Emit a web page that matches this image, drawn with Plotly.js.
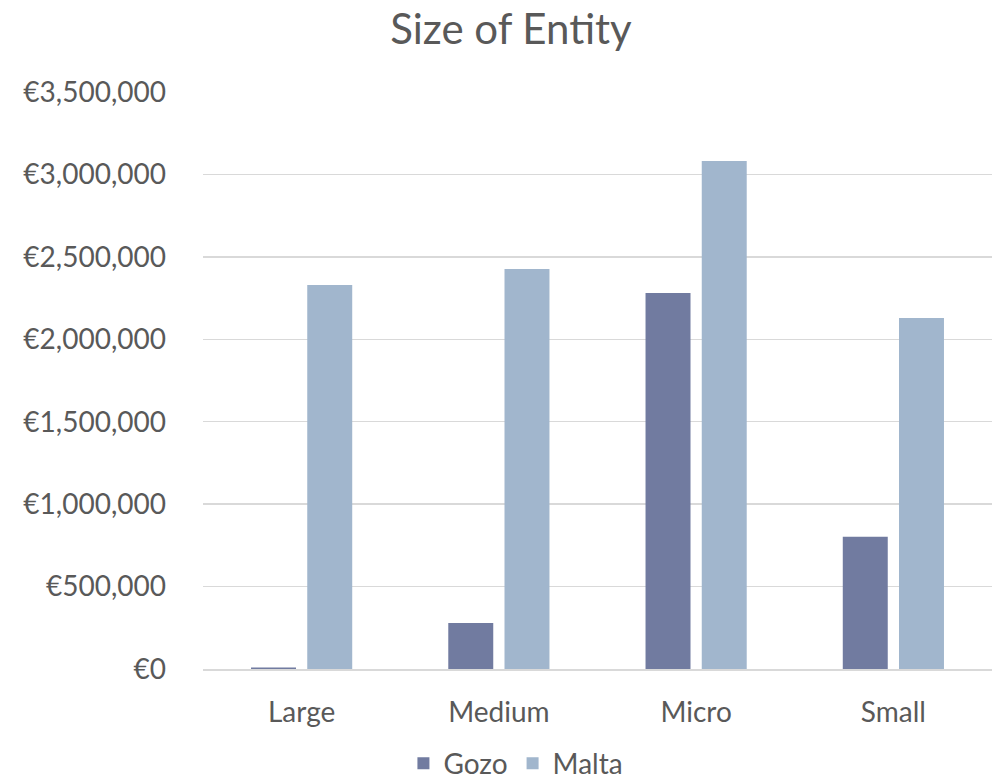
<!DOCTYPE html>
<html>
<head>
<meta charset="utf-8">
<script src="https://cdn.plot.ly/plotly-3.0.1.min.js"></script>
<style>html,body{margin:0;padding:0;background:#fff;}#chart{width:996px;height:784px;}</style>
</head>
<body>
<div id="chart"></div>
<script>
const categories = ["Large", "Medium", "Micro", "Small"];
const gozo = [9000, 279000, 2281000, 802000];
const malta = [2329000, 2426000, 3081000, 2129000];
const yTicks = [0, 500000, 1000000, 1500000, 2000000, 2500000, 3000000, 3500000];
const yTickText = yTicks.map(v => "€" + v.toLocaleString("en-US"));

const FONT = "Lato, 'Open Sans', sans-serif";
const TXT = "#595959";

const traces = [
  {type: "bar", name: "Gozo", x: categories, y: gozo, marker: {color: "#717BA0"}},
  {type: "bar", name: "Malta", x: categories, y: malta, marker: {color: "#A1B6CD"}}
];

const layout = {
  width: 996, height: 784,
  margin: {l: 203, r: 4, t: 92, b: 115, autoexpand: false},
  paper_bgcolor: "#fff", plot_bgcolor: "#fff",
  font: {family: FONT, color: TXT, size: 27},
  title: {text: "Size of Entity", font: {family: FONT, size: 42, color: TXT}, x: 0.513, xref: "container", xanchor: "center", y: 0.962, yref: "container", yanchor: "middle"},
  barmode: "group",
  bargap: 0.43,
  bargroupgap: 0.2,
  showlegend: true,
  legend: {orientation: "h", x: 0.518, xref: "container", xanchor: "center", y: 0.026, yref: "container", yanchor: "middle", font: {size: 28, color: TXT}, traceorder: "normal", itemwidth: 30},
  xaxis: {
    showgrid: false, showline: true, linecolor: "#D9D9D9", linewidth: 1.5,
    ticks: "", tickfont: {size: 28, color: TXT}, ticklabelstandoff: 18
  },
  yaxis: {
    range: [0, 3500000], tickmode: "array", tickvals: yTicks, ticktext: yTickText,
    showgrid: true, gridcolor: "#D9D9D9", gridwidth: 1.3, zeroline: false, showline: false,
    ticks: "", tickfont: {size: 28, color: TXT}, ticklabelstandoff: 36
  }
};

Plotly.newPlot("chart", traces, layout, {displayModeBar: false, staticPlot: true});
</script>
</body>
</html>
